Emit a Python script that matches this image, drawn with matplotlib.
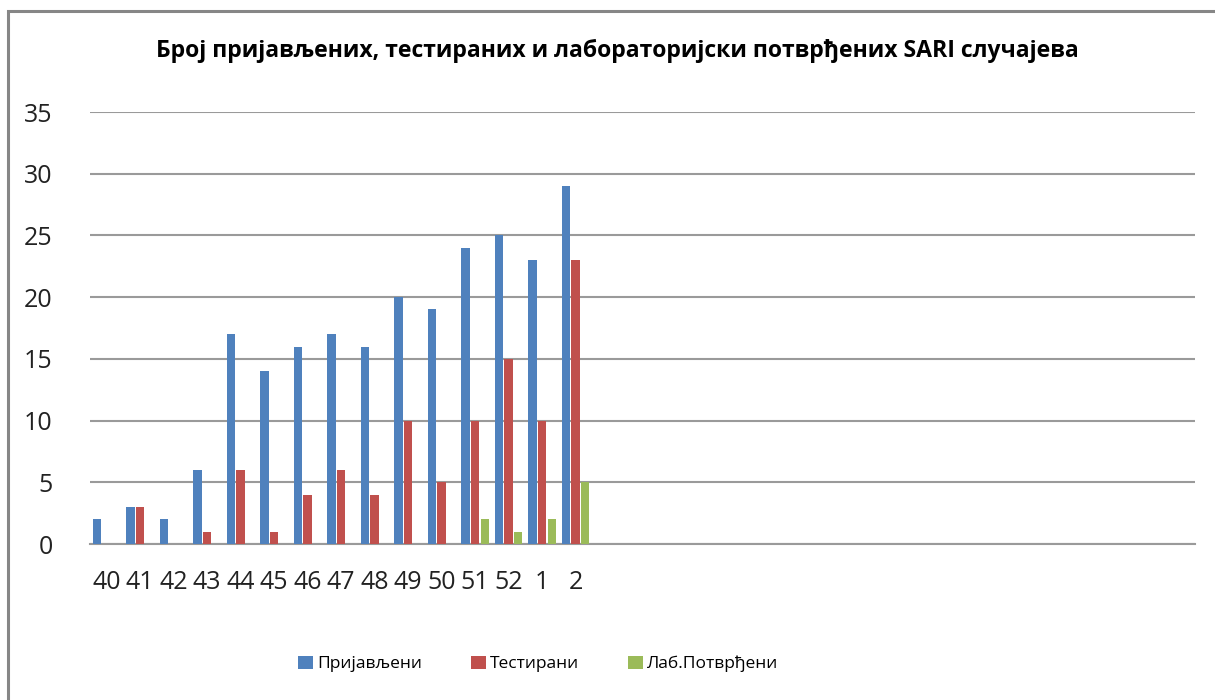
import matplotlib.pyplot as plt
from matplotlib.patches import Rectangle
import numpy as np

# weekly SARI counts
weeks = ["40", "41", "42", "43", "44", "45", "46", "47", "48", "49", "50", "51", "52", "1", "2"]
prijavljeni = [2, 3, 2, 6, 17, 14, 16, 17, 16, 20, 19, 24, 25, 23, 29]
testirani = [0, 3, 0, 1, 6, 1, 4, 6, 4, 10, 5, 10, 15, 10, 23]
potvrdjeni = [0, 0, 0, 0, 0, 0, 0, 0, 0, 0, 0, 2, 1, 2, 5]
n_slots = 33  # axis keeps room for the rest of the season

plt.rcParams["font.family"] = ["Open Sans", "DejaVu Sans"]

fig = plt.figure(figsize=(12.15, 7.0), dpi=100)
ax = fig.add_axes([90 / 1215, 1 - 544 / 700, 1105 / 1215, 432 / 700])

x = np.arange(len(weeks))
w = 0.25
ax.bar(x - 0.29, prijavljeni, w, color="#4F81BD", label="Пријављени", zorder=3)
ax.bar(x, testirani, w, color="#C0504D", label="Тестирани", zorder=3)
ax.bar(x + 0.29, potvrdjeni, w, color="#9BBB59", label="Лаб.Потврђени", zorder=3)

ax.set_xlim(-0.5, n_slots - 0.5)
ax.set_ylim(0, 35)
ax.set_yticks(range(0, 36, 5))
ax.set_xticks(x)
ax.set_xticklabels(weeks)
ax.tick_params(axis="both", length=0, labelsize=18, colors="#222222")
ax.tick_params(axis="y", pad=27)
ax.tick_params(axis="x", pad=19)

ax.grid(axis="y", color="#9A9A9A", linewidth=1.5, zorder=0)
for s in ["top", "right", "left"]:
    ax.spines[s].set_visible(False)
ax.spines["bottom"].set_color("#9A9A9A")
ax.spines["bottom"].set_linewidth(1.5)

fig.text(0.508, 1 - 51 / 700, "Број пријављених, тестираних и лабораторијски потврђених SARI случајева",
         ha="center", va="center", fontsize=16.6, fontweight="bold")

leg = fig.legend(loc="center", bbox_to_anchor=(0.443, 1 - 664 / 700), ncol=3, frameon=False,
                 fontsize=12.5, handlelength=0.85, handleheight=0.85, handletextpad=0.25,
                 columnspacing=2.8)

# outer chart frame (right and bottom edges fall outside the picture)
fig.patches.append(Rectangle((8 / 1215, -0.05), 1.2, 1 - 11 / 700 + 0.05, transform=fig.transFigure,
                             fill=False, edgecolor="#868686", linewidth=2.2))

fig.savefig("out.png", dpi=100)
